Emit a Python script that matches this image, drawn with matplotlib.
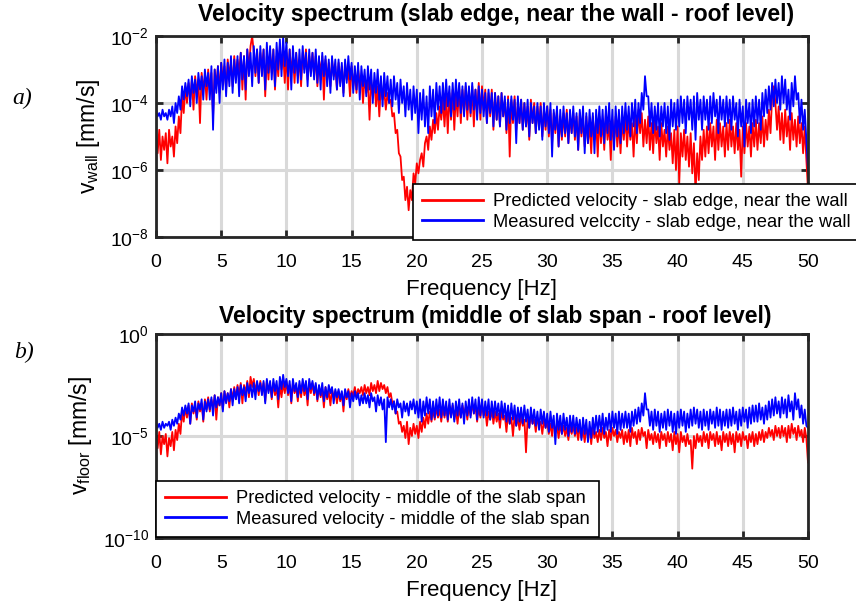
import numpy as np
import matplotlib
matplotlib.use('Agg')
import matplotlib.pyplot as plt

plt.rcParams['font.family'] = ['Liberation Sans', 'DejaVu Sans']
plt.rcParams['mathtext.fontset'] = 'custom'
plt.rcParams['mathtext.rm'] = 'Liberation Sans'
plt.rcParams['mathtext.it'] = 'Liberation Sans:italic'

# exponentes log10 de la velocidad [mm/s], paso de 0.125 Hz (0 .. 50 Hz)
pred_wall = [
    -4.9, -5.5, -4.8, -5.7, -5.0, -5.4, -4.9, -5.8, -4.8, -5.3, -5.0, -5.6, -4.7, -5.2, -4.4, -4.9,
    -3.8, -4.3, -3.5, -4.0, -3.4, -3.9, -3.3, -4.2, -3.2, -3.7, -3.3, -4.6, -3.1, -3.6, -3.2, -3.9,
    -3.0, -3.6, -3.1, -4.4, -3.0, -3.5, -2.9, -3.7, -2.8, -3.3, -2.9, -3.6, -2.7, -3.2, -2.8, -3.5,
    -2.6, -3.3, -2.7, -3.1, -2.5, -3.6, -2.6, -3.9, -2.4, -3.0, -2.3, -2.0, -2.5, -3.2, -2.4, -3.4,
    -2.5, -3.0, -2.4, -3.8, -2.6, -3.3, -2.5, -3.1, -2.4, -3.6, -2.6, -3.2, -2.3, -3.0, -2.5, -3.4,
    -2.5, -3.6, -2.4, -3.1, -2.6, -3.4, -2.5, -3.2, -2.7, -3.5, -2.5, -3.0, -2.4, -3.3, -2.6, -3.1,
    -2.5, -3.2, -2.6, -3.5, -2.7, -3.1, -2.6, -3.9, -2.7, -3.3, -2.8, -3.5, -2.7, -3.2, -2.9, -3.6,
    -2.8, -3.4, -2.9, -3.7, -2.8, -3.3, -3.0, -3.8, -2.9, -3.5, -3.1, -3.7, -3.0, -3.4, -3.2, -4.0,
    -3.2, -3.7, -3.3, -4.5, -3.3, -3.8, -3.4, -4.1, -3.5, -4.4, -3.4, -3.9, -3.6, -4.2, -3.7, -4.0,
    -3.9, -4.4, -4.3, -4.9, -4.8, -5.5, -5.6, -6.3, -6.2, -6.9, -6.5, -7.2, -6.6, -6.9, -6.1, -6.4,
    -5.8, -6.1, -5.7, -5.5, -5.9, -5.2, -5.0, -5.4, -4.7, -5.1, -4.5, -4.9, -4.3, -4.8, -4.1, -4.5,
    -3.9, -4.7, -3.8, -4.9, -3.7, -4.5, -3.6, -4.8, -3.7, -4.4, -3.5, -4.6, -3.6, -4.3, -3.5, -4.5,
    -3.6, -4.4, -3.5, -4.7, -3.6, -4.3, -3.4, -4.5, -3.5, -4.2, -3.6, -4.6, -3.7, -4.4, -3.6, -4.8,
    -3.7, -4.5, -3.8, -4.7, -3.7, -4.4, -3.9, -4.9, -3.8, -5.6, -3.9, -4.6, -3.8, -4.8, -4.0, -4.6,
    -3.9, -4.8, -4.0, -4.7, -4.1, -5.1, -3.9, -4.6, -4.0, -4.9, -4.1, -4.7, -4.0, -5.0, -4.2, -4.8,
    -4.1, -5.0, -4.2, -5.2, -4.3, -4.9, -4.2, -5.3, -4.4, -5.1, -4.3, -5.0, -4.2, -5.2, -4.4, -4.9,
    -4.3, -5.1, -4.4, -5.4, -4.3, -5.0, -4.5, -5.3, -4.4, -5.2, -4.6, -5.5, -4.4, -5.1, -4.5, -5.6,
    -4.4, -5.2, -4.5, -5.4, -4.3, -5.1, -4.6, -5.7, -4.5, -5.2, -4.4, -5.3, -4.6, -5.5, -4.5, -5.1,
    -4.4, -5.3, -4.5, -5.1, -4.6, -5.6, -4.4, -5.2, -4.2, -4.9, -4.3, -5.3, -4.5, -5.2, -4.4, -5.4,
    -4.6, -5.5, -4.5, -5.2, -4.7, -5.7, -4.6, -5.3, -4.8, -5.6, -4.7, -5.4, -4.9, -5.8, -4.8, -6.0,
    -4.7, -6.4, -4.9, -5.6, -4.8, -5.7, -5.0, -5.9, -4.9, -6.1, -5.2, -6.7, -5.5, -6.3, -5.0, -5.7,
    -4.8, -5.6, -4.7, -5.5, -4.6, -5.3, -4.7, -5.7, -4.5, -5.4, -4.6, -5.3, -4.7, -5.6, -4.6, -5.4,
    -4.5, -5.3, -4.7, -5.5, -4.6, -5.4, -4.8, -6.2, -4.7, -5.5, -4.6, -5.3, -4.7, -5.6, -4.6, -5.3,
    -4.5, -5.4, -4.6, -5.2, -4.4, -5.3, -4.5, -5.1, -4.2, -4.9, -3.8, -3.5, -4.0, -4.8, -4.1, -5.1,
    -4.3, -5.2, -4.2, -5.0, -4.4, -5.4, -4.3, -5.1, -4.5, -5.3, -4.4, -5.2, -4.6, -5.5, -4.7, -5.7,
    -6.6]

meas_wall = [
    -4.2, -4.4, -4.3, -4.5, -4.2, -4.4, -4.3, -4.5, -4.2, -4.4, -4.1, -4.6, -4.0, -4.3, -3.8, -4.2,
    -3.5, -3.9, -3.4, -3.8, -3.3, -4.1, -3.2, -3.7, -3.3, -4.0, -3.1, -3.6, -3.2, -3.9, -3.0, -3.5,
    -3.1, -3.9, -2.9, -4.8, -3.0, -3.7, -2.9, -4.0, -2.8, -3.6, -2.7, -3.8, -2.8, -3.5, -2.6, -3.7,
    -2.7, -3.4, -2.6, -3.8, -2.5, -3.3, -2.6, -3.6, -2.4, -3.2, -2.5, -3.5, -2.3, -3.1, -2.4, -3.4,
    -2.3, -3.2, -2.4, -3.6, -2.2, -3.1, -2.3, -3.3, -2.4, -3.5, -2.2, -3.0, -2.1, -3.2, -2.0, -2.9,
    -2.2, -3.2, -2.4, -3.6, -2.3, -3.1, -2.5, -3.4, -2.4, -3.3, -2.3, -3.1, -2.5, -3.5, -2.4, -3.2,
    -2.5, -3.3, -2.4, -3.4, -2.6, -3.6, -2.5, -3.2, -2.6, -3.5, -2.7, -3.7, -2.6, -3.3, -2.7, -3.6,
    -2.7, -3.5, -2.8, -3.8, -2.7, -3.4, -2.6, -3.3, -2.8, -3.7, -2.9, -3.6, -2.8, -3.9, -2.9, -3.5,
    -3.0, -3.8, -2.9, -3.6, -3.0, -4.0, -3.1, -3.7, -3.0, -3.9, -3.2, -4.1, -3.1, -3.8, -3.2, -4.0,
    -3.3, -4.1, -3.2, -3.9, -3.4, -4.3, -3.3, -4.0, -3.5, -4.4, -3.4, -4.2, -3.6, -4.5, -3.5, -4.3,
    -3.6, -4.9, -3.7, -4.5, -3.6, -4.7, -3.8, -4.9, -3.5, -4.4, -3.6, -4.6, -3.4, -4.2, -3.5, -4.3,
    -3.4, -4.2, -3.3, -4.1, -3.5, -4.4, -3.4, -4.2, -3.3, -4.1, -3.4, -4.3, -3.5, -4.4, -3.4, -4.2,
    -3.5, -4.3, -3.4, -4.2, -3.6, -4.5, -3.5, -4.3, -3.6, -4.4, -3.7, -4.6, -3.6, -4.3, -3.7, -4.7,
    -3.7, -4.5, -3.8, -4.7, -3.7, -4.4, -3.8, -4.8, -3.9, -4.6, -3.8, -4.5, -3.9, -5.2, -3.8, -4.6,
    -3.9, -4.8, -4.0, -4.7, -3.9, -5.0, -4.0, -4.6, -4.1, -4.9, -4.0, -4.8, -4.1, -5.1, -4.0, -4.7,
    -4.1, -4.9, -4.0, -5.6, -4.2, -4.8, -4.1, -5.3, -4.2, -5.0, -4.1, -4.9, -4.3, -5.2, -4.2, -4.9,
    -4.1, -5.0, -4.3, -5.4, -4.2, -4.9, -4.1, -5.5, -4.3, -5.2, -4.2, -5.0, -4.3, -5.5, -4.2, -4.9,
    -4.1, -5.0, -4.2, -5.2, -4.1, -4.9, -4.0, -5.1, -4.2, -5.4, -4.1, -5.0, -4.2, -5.2, -4.1, -4.9,
    -4.0, -4.8, -4.1, -5.0, -4.0, -4.7, -3.9, -4.9, -4.0, -4.6, -3.7, -4.2, -3.2, -3.8, -3.8, -4.7,
    -4.0, -4.9, -4.1, -4.8, -4.0, -5.0, -4.1, -4.7, -4.0, -4.9, -4.1, -5.1, -3.9, -4.7, -4.0, -4.8,
    -3.9, -4.7, -3.8, -4.6, -3.9, -4.9, -3.8, -4.5, -3.9, -4.8, -3.8, -5.1, -3.7, -4.5, -3.9, -4.8,
    -3.8, -4.5, -3.9, -4.8, -3.8, -4.6, -3.7, -4.4, -3.9, -4.9, -3.8, -4.5, -3.9, -4.7, -3.8, -4.6,
    -3.9, -4.8, -3.8, -4.5, -4.0, -5.0, -3.9, -4.7, -4.1, -5.3, -3.9, -4.6, -4.0, -4.9, -3.9, -4.7,
    -3.8, -4.6, -3.9, -4.8, -3.7, -4.4, -3.6, -4.3, -3.5, -4.2, -3.4, -4.1, -3.3, -4.0, -3.4, -4.2,
    -3.2, -4.0, -3.3, -4.2, -3.6, -4.5, -3.4, -4.1, -3.2, -3.9, -3.7, -4.6, -3.9, -4.8, -4.2, -5.1,
    -6.0]

pred_floor = [
    -4.9, -5.6, -4.8, -5.9, -5.0, -5.4, -4.9, -6.0, -5.1, -5.5, -4.8, -5.7, -4.7, -5.2, -4.4, -4.9,
    -3.8, -4.3, -3.6, -4.1, -3.5, -4.4, -3.4, -3.9, -3.5, -4.2, -3.3, -3.8, -3.4, -4.3, -3.2, -3.7,
    -3.1, -3.8, -3.2, -3.6, -3.0, -4.2, -3.1, -3.5, -2.9, -3.7, -2.8, -3.3, -2.9, -3.6, -2.7, -3.2,
    -2.6, -3.2, -2.5, -3.0, -2.4, -3.4, -2.5, -2.9, -2.3, -3.1, -2.1, -2.6, -2.2, -2.8, -2.4, -3.0,
    -2.3, -2.9, -2.4, -3.3, -2.3, -2.8, -2.5, -3.2, -2.4, -3.0, -2.6, -3.6, -2.5, -3.1, -2.4, -2.9,
    -2.3, -3.0, -2.5, -3.4, -2.4, -2.9, -2.6, -3.3, -2.5, -3.1, -2.4, -3.0, -2.6, -3.5, -2.4, -2.9,
    -2.4, -3.0, -2.5, -3.3, -2.6, -3.1, -2.7, -3.6, -2.6, -3.2, -2.8, -3.5, -2.7, -3.1, -2.8, -3.4,
    -2.8, -3.3, -2.9, -3.8, -2.8, -3.2, -2.7, -3.1, -2.8, -3.0, -2.6, -3.1, -2.7, -2.9, -2.6, -3.0,
    -2.5, -2.9, -2.6, -3.0, -2.4, -2.8, -2.5, -2.9, -2.3, -2.8, -2.4, -2.7, -2.5, -2.9, -2.6, -3.1,
    -2.9, -3.4, -3.3, -3.9, -3.8, -4.4, -4.3, -4.8, -4.5, -5.1, -4.3, -5.4, -4.6, -5.0, -4.4, -4.9,
    -4.5, -5.1, -4.3, -4.8, -4.1, -4.6, -3.9, -4.4, -3.8, -4.3, -3.7, -4.2, -3.6, -4.1, -3.7, -4.3,
    -3.6, -4.1, -3.5, -4.3, -3.6, -4.0, -3.5, -4.2, -3.7, -4.4, -3.6, -4.1, -3.5, -3.9, -3.6, -4.2,
    -3.5, -4.0, -3.4, -3.9, -3.5, -4.3, -3.6, -4.1, -3.5, -4.0, -3.7, -4.5, -3.8, -4.2, -3.7, -4.4,
    -3.8, -4.3, -3.9, -4.6, -3.8, -4.2, -4.0, -4.8, -3.9, -4.4, -4.1, -5.0, -4.0, -4.5, -4.1, -4.7,
    -4.0, -4.5, -4.2, -5.8, -4.1, -4.6, -4.0, -4.4, -4.2, -4.8, -4.1, -4.5, -4.3, -4.9, -4.2, -4.6,
    -4.3, -4.9, -4.4, -5.0, -4.3, -4.8, -4.5, -5.1, -4.4, -4.9, -4.5, -5.0, -4.6, -5.2, -4.5, -4.9,
    -4.5, -5.0, -4.6, -5.2, -4.5, -5.1, -4.7, -5.3, -4.6, -5.0, -4.7, -5.4, -4.6, -5.1, -4.8, -5.3,
    -4.7, -5.2, -4.6, -5.1, -4.8, -5.5, -4.7, -5.2, -4.6, -5.0, -4.7, -5.3, -4.8, -5.1, -4.7, -5.4,
    -4.8, -5.3, -4.7, -5.5, -4.6, -5.1, -4.8, -5.4, -4.7, -5.2, -4.6, -5.0, -4.8, -5.6, -4.7, -5.2,
    -4.9, -5.4, -4.8, -5.3, -4.9, -5.6, -4.8, -5.2, -4.9, -5.5, -4.8, -5.3, -4.9, -5.7, -4.8, -5.4,
    -4.9, -5.8, -4.8, -5.3, -5.0, -5.5, -4.9, -5.4, -5.2, -6.6, -5.0, -5.6, -4.9, -5.3, -5.0, -5.5,
    -4.8, -5.3, -4.9, -5.6, -4.8, -5.2, -4.9, -5.5, -4.8, -5.4, -5.0, -5.7, -4.8, -5.3, -4.9, -5.5,
    -4.8, -5.4, -4.9, -5.8, -4.8, -5.3, -4.9, -5.5, -4.8, -5.2, -5.0, -5.6, -4.9, -5.3, -4.8, -5.5,
    -4.9, -5.4, -4.8, -5.2, -4.7, -5.3, -4.8, -5.1, -4.6, -5.0, -4.7, -5.2, -4.5, -5.0, -4.6, -5.1,
    -4.5, -5.0, -4.6, -5.3, -4.5, -5.1, -4.4, -4.9, -4.6, -5.2, -4.5, -5.0, -4.7, -5.3, -4.6, -5.1,
    -6.3]

meas_floor = [
    -4.3, -4.6, -4.4, -4.7, -4.3, -4.6, -4.4, -4.5, -4.3, -4.7, -4.2, -4.5, -4.1, -4.4, -3.9, -4.2,
    -3.6, -4.0, -3.5, -3.9, -3.4, -4.4, -3.5, -3.8, -3.3, -4.1, -3.4, -3.7, -3.2, -4.2, -3.3, -3.8,
    -3.2, -3.7, -3.1, -4.0, -3.0, -3.6, -3.1, -3.5, -2.9, -3.8, -2.8, -3.4, -2.9, -3.3, -2.7, -3.5,
    -2.7, -3.2, -2.6, -3.4, -2.5, -3.0, -2.6, -3.3, -2.4, -2.9, -2.5, -3.1, -2.4, -3.2, -2.3, -2.8,
    -2.4, -3.0, -2.3, -3.4, -2.2, -2.9, -2.3, -3.1, -2.2, -2.8, -2.3, -3.2, -2.1, -2.7, -2.0, -2.6,
    -2.2, -2.9, -2.3, -3.3, -2.2, -2.8, -2.4, -3.1, -2.3, -2.9, -2.2, -2.8, -2.3, -3.2, -2.2, -2.7,
    -2.3, -2.9, -2.4, -3.2, -2.5, -3.0, -2.4, -3.3, -2.6, -3.1, -2.5, -2.9, -2.6, -3.4, -2.7, -3.1,
    -2.7, -3.2, -2.8, -3.5, -2.7, -3.1, -2.8, -3.6, -2.9, -3.3, -2.8, -3.2, -2.9, -3.5, -3.0, -3.4,
    -2.9, -3.4, -3.0, -3.6, -2.9, -3.3, -3.1, -3.8, -3.0, -3.5, -3.1, -3.7, -3.2, -5.3, -3.1, -3.6,
    -3.2, -3.7, -3.3, -3.9, -3.2, -3.6, -3.4, -4.1, -3.3, -3.8, -3.4, -4.0, -3.3, -3.7, -3.2, -3.9,
    -3.3, -4.1, -3.2, -4.3, -3.3, -4.0, -3.1, -3.9, -3.2, -4.2, -3.3, -4.1, -3.2, -4.0, -3.1, -4.1,
    -3.2, -4.0, -3.3, -4.2, -3.2, -4.1, -3.4, -4.3, -3.3, -4.0, -3.2, -4.1, -3.4, -4.4, -3.3, -4.0,
    -3.2, -4.1, -3.1, -3.9, -3.2, -4.2, -3.1, -4.0, -3.2, -4.1, -3.3, -4.0, -3.2, -4.2, -3.3, -4.1,
    -3.3, -4.0, -3.4, -4.2, -3.3, -4.1, -3.4, -4.3, -3.5, -4.4, -3.4, -4.2, -3.5, -4.5, -3.6, -4.3,
    -3.6, -4.4, -3.5, -4.3, -3.7, -4.6, -3.6, -4.4, -3.7, -4.5, -3.8, -4.7, -3.7, -4.4, -3.8, -4.6,
    -3.9, -4.8, -3.8, -4.6, -4.0, -5.4, -3.9, -4.7, -4.0, -4.9, -3.9, -4.7, -4.1, -5.0, -4.0, -4.8,
    -4.0, -4.9, -4.1, -4.8, -4.2, -5.2, -4.1, -4.9, -4.2, -5.3, -4.3, -5.1, -4.1, -4.9, -4.0, -4.8,
    -4.0, -4.8, -3.9, -4.9, -4.1, -4.7, -3.9, -4.8, -3.8, -4.6, -3.9, -4.9, -3.8, -4.7, -3.9, -4.6,
    -3.8, -4.6, -3.9, -4.8, -3.8, -4.5, -3.7, -4.4, -3.6, -4.3, -3.4, -4.0, -2.9, -3.7, -3.7, -4.5,
    -3.8, -4.7, -3.7, -4.5, -3.8, -4.8, -3.9, -4.6, -3.8, -4.7, -3.7, -4.5, -3.8, -4.8, -3.9, -4.9,
    -3.8, -4.6, -3.7, -4.5, -3.8, -4.8, -3.9, -4.6, -3.7, -4.5, -3.6, -4.4, -3.7, -4.6, -3.8, -4.7,
    -3.7, -4.5, -3.8, -4.7, -3.7, -4.4, -3.8, -4.6, -3.6, -4.5, -3.7, -4.7, -3.8, -4.5, -3.7, -4.6,
    -3.7, -4.5, -3.6, -4.4, -3.8, -4.7, -3.7, -4.5, -3.6, -4.3, -3.7, -4.6, -3.6, -4.4, -3.5, -4.3,
    -3.5, -4.3, -3.4, -4.2, -3.6, -4.4, -3.5, -4.2, -3.3, -4.1, -3.2, -4.0, -3.1, -3.9, -3.3, -4.1,
    -3.1, -3.9, -3.2, -4.1, -3.0, -3.8, -3.3, -4.2, -2.9, -3.7, -3.2, -4.1, -3.5, -4.4, -3.7, -4.5,
    -4.6]

x_ticks = [0, 5, 10, 15, 20, 25, 30, 35, 40, 45, 50]

frec = np.linspace(0, 50, len(pred_wall))

fig = plt.figure(figsize=(8.56, 6.05), dpi=100)
ax1 = fig.add_axes([156/856, 1-237/605, 652/856, 201/605])
ax2 = fig.add_axes([156/856, 1-538/605, 652/856, 204/605])

paneles = [
    (ax1, pred_wall, meas_wall, [1e-8, 1e-6, 1e-4, 1e-2],
     'Velocity spectrum (slab edge, near the wall - roof level)',
     r'$\mathregular{v_{wall}}$ [mm/s]',
     'Predicted velocity - slab edge, near the wall',
     'Measured velccity - slab edge, near the wall',
     (0.394, -0.015), 11),
    (ax2, pred_floor, meas_floor, [1e-10, 1e-5, 1e0],
     'Velocity spectrum (middle of slab span - roof level)',
     r'$\mathregular{v_{floor}}$ [mm/s]',
     'Predicted velocity - middle of the slab span',
     'Measured velocity - middle of the slab span',
     (0.0, 0.005), 8),
]

for ax, pred, meas, yt, titulo, ylab, lab1, lab2, pos, tpad in paneles:
    ax.plot(frec, 10**np.array(pred), color='#ff0000', lw=1.3, label=lab1)
    ax.plot(frec, 10**np.array(meas), color='#0000ff', lw=1.3, label=lab2)
    ax.set_yscale('log')
    ax.set_xlim(0, 50)
    ax.set_ylim(yt[0], yt[-1])
    ax.set_yticks(yt)
    ax.minorticks_off()
    ax.set_xticks(x_ticks)
    ax.grid(True, color='#d9d9d9', lw=2.2)
    ax.set_axisbelow(True)
    for s in ax.spines.values():
        s.set_linewidth(2.0)
        s.set_color('#262626')
    ax.tick_params(direction='in', top=True, right=True, length=5, width=2,
                   color='#262626', labelsize=14)
    ax.tick_params(axis='x', pad=12)
    ax.tick_params(axis='y', pad=5)
    ax.set_title(titulo, fontsize=16.5, fontweight='bold', x=0.521, pad=tpad)
    ax.set_xlabel('Frequency [Hz]', fontsize=16, labelpad=6)
    ax.set_ylabel(ylab, fontsize=16.5, labelpad=6)
    leg = ax.legend(loc='lower left', bbox_to_anchor=pos, fontsize=13.2,
                    frameon=True, fancybox=False, framealpha=1,
                    edgecolor='black', handlelength=3.3, handletextpad=0.55,
                    labelspacing=0.2, borderaxespad=0, borderpad=0.5)
    leg.get_frame().set_linewidth(1.2)
    for h in leg.get_lines():
        h.set_linewidth(2.0)

fig.text(12/856, 1-98/605, 'a)', fontsize=17, style='italic',
         family='Liberation Serif', va='center')
fig.text(14/856, 1-352/605, 'b)', fontsize=17, style='italic',
         family='Liberation Serif', va='center')

plt.savefig('out.png', dpi=100)
